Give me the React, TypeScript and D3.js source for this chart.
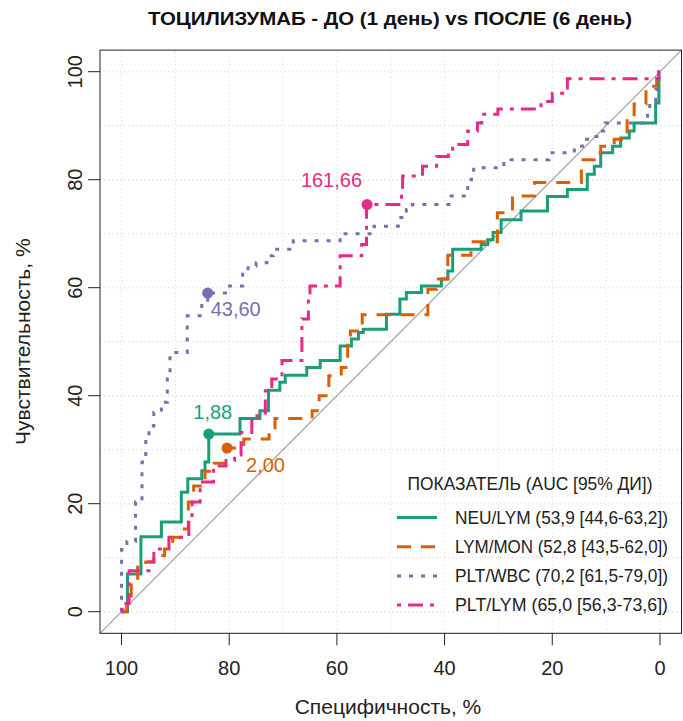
import { useEffect, useRef } from "react";
import * as d3 from "d3";

const title = "ТОЦИЛИЗУМАБ - ДО (1 день) vs ПОСЛЕ (6 день)";
const xLabel = "Специфичность, %";
const yLabel = "Чувствительность, %";
const legendTitle = "ПОКАЗАТЕЛЬ (AUC [95% ДИ])";

const xTicks = [100, 80, 60, 40, 20, 0];
const yTicks = [0, 20, 40, 60, 80, 100];
const gridValues = [0, 10, 20, 30, 40, 50, 60, 70, 80, 90, 100];

const seriesNames = [
  "NEU/LYM (53,9 [44,6-63,2])",
  "LYM/MON (52,8 [43,5-62,0])",
  "PLT/WBC (70,2 [61,5-79,0])",
  "PLT/LYM (65,0 [56,3-73,6])",
];
const seriesColors = ["#1B9E77", "#D95F02", "#7570B3", "#E7298A"];
const seriesDash = ["none", "14,10", "4,8", "4,7,15,7"];

// specificity where each rise happens, and the sensitivity reached there
const neuLymSpec = [100, 98.9, 96.4, 92.6, 88.9, 87.7, 85.1, 84.5, 83.8, 78.0, 74.3, 72.7, 70.6, 69.6, 65.6, 63.1, 59.4, 57.3, 56.0, 55.1, 50.8, 48.3, 47.1, 44.3, 40.6, 39.4, 38.5, 33.2, 32.0, 31.0, 29.5, 25.8, 20.9, 17.2, 13.5, 12.2, 11.0, 8.8, 7.3, 5.7, 4.8, 0.8, 0.2, 0];
const neuLymSens = [0, 7.0, 13.9, 16.6, 22.1, 24.6, 26.1, 27.7, 32.9, 35.8, 37.2, 41.0, 42.5, 43.8, 45.2, 46.5, 49.2, 50.5, 51.7, 52.3, 55.1, 57.9, 59.1, 60.3, 61.6, 63.1, 67.1, 68.0, 68.9, 70.2, 72.6, 74.2, 76.9, 78.2, 81.0, 82.5, 85.0, 86.2, 87.7, 89.0, 90.5, 94.2, 100, 100];

const lymMonSpec = [100, 99.0, 98.2, 97.0, 95.5, 94.0, 92.0, 90.5, 88.9, 87.6, 86.6, 84.5, 82.8, 80.4, 77.3, 72.6, 71.5, 64.6, 63.3, 61.5, 59.2, 58.0, 57.5, 55.3, 43.1, 41.5, 39.4, 35.1, 30.2, 27.4, 23.3, 14.6, 12.2, 11.0, 8.5, 6.1, 4.8, 2.6, 0.6, 0];
const lymMonSens = [0, 1.5, 5.5, 8.3, 9.2, 10.4, 11.6, 13.8, 15.3, 20.3, 23.3, 26.0, 27.5, 30.3, 32.0, 33.5, 35.8, 37.2, 40.0, 43.7, 45.2, 50.0, 52.0, 55.0, 59.7, 61.6, 66.0, 68.5, 73.9, 77.0, 79.5, 83.7, 85.0, 86.2, 87.5, 91.4, 94.0, 97.3, 100, 100];

const pltWbcSpec = [100, 100, 99.0, 97.4, 96.2, 95.5, 94.9, 94.0, 92.6, 91.5, 91.0, 87.8, 85.1, 84.0, 80.4, 77.5, 76.5, 75.0, 73.0, 71.8, 68.1, 59.4, 53.1, 48.6, 47.1, 46.0, 38.8, 35.7, 35.0, 34.6, 29.0, 20.6, 15.9, 14.4, 12.6, 11.3, 10.2, 2.3, 1.9, 0.8, 0.2, 0];
const pltWbcSens = [0, 11.5, 13.0, 20.3, 27.7, 32.0, 34.4, 36.9, 38.8, 43.1, 48.0, 54.8, 57.0, 59.0, 60.3, 62.5, 64.0, 64.6, 65.9, 67.1, 68.7, 70.0, 71.4, 73.0, 74.5, 75.4, 77.0, 80.0, 81.0, 82.2, 83.7, 85.0, 86.2, 87.5, 88.0, 89.0, 90.5, 92.8, 94.5, 96.7, 100, 100];

const pltLymSpec = [100, 99.9, 98.6, 94.9, 94.0, 91.2, 87.5, 86.9, 85.4, 82.9, 80.6, 79.0, 77.8, 75.8, 73.3, 72.1, 70.2, 66.5, 65.3, 65.0, 59.4, 55.4, 54.5, 48.0, 47.8, 44.1, 41.5, 39.3, 38.5, 35.7, 33.9, 33.1, 30.1, 22.1, 20.0, 17.2, 0.2, 0];
const pltLymSens = [0, 1.5, 7.6, 9.2, 11.6, 13.8, 17.8, 20.3, 24.0, 27.0, 28.0, 29.0, 33.2, 36.3, 40.9, 43.1, 46.5, 54.2, 57.9, 60.3, 65.9, 68.0, 75.4, 78.2, 80.7, 82.5, 84.3, 85.0, 86.5, 89.0, 90.5, 92.1, 93.1, 94.5, 96.0, 98.7, 100, 100];

const seriesSpec = [neuLymSpec, lymMonSpec, pltWbcSpec, pltLymSpec];
const seriesSens = [neuLymSens, lymMonSens, pltWbcSens, pltLymSens];

// best thresholds (one per series)
const thresholdLabels = ["1,88", "2,00", "43,60", "161,66"];
const thresholdSpec = [83.8, 80.4, 84.0, 54.4];
const thresholdSens = [32.9, 30.3, 59.0, 75.4];
const thresholdOffsets = [
  { dx: 4, dy: -22, anchor: "middle" },
  { dx: 19, dy: 17, anchor: "start" },
  { dx: 3, dy: 16, anchor: "start" },
  { dx: -5, dy: -25, anchor: "end" },
];

const FONT = "'Liberation Sans Narrow', 'Arial Narrow', 'Liberation Sans', Arial, sans-serif";

export default function App() {
  const svgRef = useRef<SVGSVGElement>(null);

  useEffect(() => {
    document.body.style.margin = "0";
    if (!svgRef.current) return;
    const width = 683;
    const height = 721;
    const svg = d3.select(svgRef.current);
    svg.selectAll("*").remove();

    const x = d3.scaleLinear().domain([104, -4]).range([100, 681.5]);
    const y = d3.scaleLinear().domain([-4, 104]).range([633.3, 50.1]);

    svg.append("rect").attr("width", width).attr("height", height).attr("fill", "#fff");

    // grid
    gridValues.forEach((v) => {
      svg.append("line")
        .attr("x1", x(v)).attr("x2", x(v))
        .attr("y1", y(-4)).attr("y2", y(104))
        .attr("stroke", "#d3d3d3").attr("stroke-dasharray", "1,3");
      svg.append("line")
        .attr("x1", x(104)).attr("x2", x(-4))
        .attr("y1", y(v)).attr("y2", y(v))
        .attr("stroke", "#d3d3d3").attr("stroke-dasharray", "1,3");
    });

    // chance diagonal
    svg.append("line")
      .attr("x1", x(104)).attr("y1", y(-4))
      .attr("x2", x(-4)).attr("y2", y(104))
      .attr("stroke", "#a0a0a0").attr("stroke-width", 1.2);

    // ROC step curves
    seriesSpec.forEach((spec, i) => {
      const pts: [number, number][] = spec.map((s, j) => [x(s), y(seriesSens[i][j])]);
      svg.append("path")
        .attr("d", d3.line().curve(d3.curveStepAfter)(pts))
        .attr("fill", "none")
        .attr("stroke", seriesColors[i])
        .attr("stroke-width", 3)
        .attr("stroke-dasharray", seriesDash[i]);
    });

    // threshold points
    thresholdLabels.forEach((lab, i) => {
      const cx = x(thresholdSpec[i]);
      const cy = y(thresholdSens[i]);
      svg.append("circle").attr("cx", cx).attr("cy", cy).attr("r", 5.5).attr("fill", seriesColors[i]);
      const o = thresholdOffsets[i];
      svg.append("text")
        .attr("x", cx + o.dx).attr("y", cy + o.dy)
        .attr("text-anchor", o.anchor)
        .attr("dominant-baseline", "central")
        .attr("font-family", FONT).attr("font-size", 20)
        .attr("fill", seriesColors[i])
        .text(lab);
    });

    // box
    svg.append("rect")
      .attr("x", x(104)).attr("y", y(104))
      .attr("width", x(-4) - x(104)).attr("height", y(-4) - y(104))
      .attr("fill", "none").attr("stroke", "#222").attr("stroke-width", 1);

    // x axis
    xTicks.forEach((t) => {
      svg.append("line")
        .attr("x1", x(t)).attr("x2", x(t))
        .attr("y1", y(-4)).attr("y2", y(-4) + 12)
        .attr("stroke", "#222");
      svg.append("text")
        .attr("x", x(t)).attr("y", 668)
        .attr("text-anchor", "middle").attr("dominant-baseline", "central")
        .attr("font-family", FONT).attr("font-size", 20).attr("fill", "#222")
        .text(String(t));
    });
    // y axis
    yTicks.forEach((t) => {
      svg.append("line")
        .attr("x1", x(104) - 12).attr("x2", x(104))
        .attr("y1", y(t)).attr("y2", y(t))
        .attr("stroke", "#222");
      svg.append("text")
        .attr("transform", `translate(75,${y(t)}) rotate(-90)`)
        .attr("text-anchor", "middle").attr("dominant-baseline", "central")
        .attr("font-family", FONT).attr("font-size", 20).attr("fill", "#222")
        .text(String(t));
    });

    svg.append("text")
      .attr("x", 388).attr("y", 706)
      .attr("text-anchor", "middle").attr("dominant-baseline", "central")
      .attr("font-family", FONT).attr("font-size", 21).attr("fill", "#222")
      .text(xLabel);
    svg.append("text")
      .attr("transform", `translate(22,${(y(-4) + y(104)) / 2}) rotate(-90)`)
      .attr("text-anchor", "middle").attr("dominant-baseline", "central")
      .attr("font-family", FONT).attr("font-size", 21).attr("fill", "#222")
      .text(yLabel);

    svg.append("text")
      .attr("x", 390).attr("y", 18)
      .attr("text-anchor", "middle").attr("dominant-baseline", "central")
      .attr("font-family", FONT).attr("font-size", 19).attr("font-weight", "bold").attr("fill", "#111")
      .attr("textLength", 484).attr("lengthAdjust", "spacingAndGlyphs")
      .text(title);

    // legend
    svg.append("text")
      .attr("x", 530).attr("y", 484)
      .attr("text-anchor", "middle").attr("dominant-baseline", "central")
      .attr("font-family", FONT).attr("font-size", 18).attr("fill", "#222")
      .attr("textLength", 245).attr("lengthAdjust", "spacingAndGlyphs")
      .text(legendTitle);
    seriesNames.forEach((name, i) => {
      const ly = 517.5 + i * 29.2;
      svg.append("line")
        .attr("x1", 397).attr("x2", 437).attr("y1", ly).attr("y2", ly)
        .attr("stroke", seriesColors[i]).attr("stroke-width", 3)
        .attr("stroke-dasharray", seriesDash[i]);
      svg.append("text")
        .attr("x", 455).attr("y", ly)
        .attr("dominant-baseline", "central")
        .attr("font-family", FONT).attr("font-size", 18).attr("fill", "#222")
        .attr("textLength", 213).attr("lengthAdjust", "spacingAndGlyphs")
        .text(name);
    });
  }, []);

  return <svg ref={svgRef} width={683} height={721} style={{ display: "block" }} />;
}
